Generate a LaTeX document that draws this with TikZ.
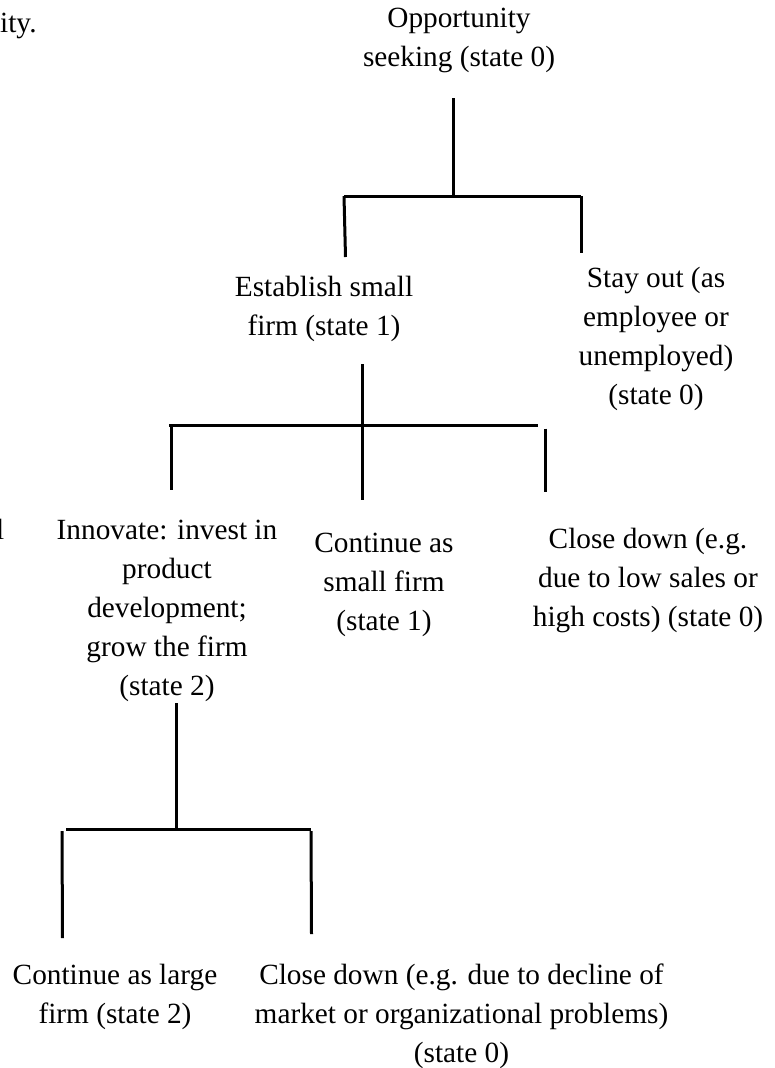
\documentclass[tikz,border=0pt]{standalone}
\usepackage{fontspec}
\setmainfont{Liberation Serif}
\begin{document}
\begin{tikzpicture}[x=1pt,y=-1pt,
  lbl/.style={inner sep=0pt, align=center, anchor=base, font=\fontsize{29.3}{39}\selectfont},
  br/.style={line width=3pt}]
\useasboundingbox (0,0) rectangle (775,1068);
% cut-off fragments
\node[lbl, anchor=base west] (frag1) at (0,32) {ity.};
\node[lbl, anchor=base east] (frag2) at (4.5,539) {l};
% labels (base anchor = baseline of the last line)
\node[lbl] (n0) at (459,66.8) {Opportunity\\seeking (state 0)};
\node[lbl] (n1) at (324,335) {Establish small\\firm (state 1)};
\node[lbl] (n2) at (656,404) {Stay out (as\\employee or\\unemployed)\\(state 0)};
\node[lbl] (n3) at (167,695) {Innovate: invest in\\product\\development;\\grow the firm\\(state 2)};
\node[lbl] (n4) at (384,630.6) {Continue as\\small firm\\(state 1)};
\node[lbl] (n5) at (648,626.6) {Close down (e.g.\\due to low sales or\\high costs) (state 0)};
\node[lbl] (n6) at (115,1023) {Continue as large\\firm (state 2)};
\node[lbl] (n7) at (461.5,1062) {Close down (e.g. due to decline of\\market or organizational problems)\\(state 0)};
% branch points
\coordinate (a0) at (453,98);
\coordinate (a1) at (453,196);
\coordinate (aL) at (344,196);
\coordinate (aR) at (581,196);
\coordinate (aLe) at (345.5,257);
\coordinate (aRe) at (581,253);
\coordinate (b0) at (362,364);
\coordinate (bL) at (169,425);
\coordinate (bR) at (538,425);
\coordinate (bLs) at (171,425);
\coordinate (bLe) at (171,490);
\coordinate (bCe) at (362,500);
\coordinate (bRs) at (545,428.5);
\coordinate (bRe) at (545,492);
\coordinate (c0) at (176,703);
\coordinate (c1) at (176,829);
\coordinate (cL) at (66,829);
\coordinate (cR) at (311,829);
\coordinate (cLs) at (62,831);
\coordinate (cLe) at (62.5,938);
\coordinate (cRs) at (311,831);
\coordinate (cRe) at (311.5,934);
% connectors
\draw[br] (a0) -- (a1);
\draw[br] (aL) -- (aR);
\draw[br] (aL) -- (aLe);
\draw[br] (aR) -- (aRe);
\draw[br] (b0) -- (bCe);
\draw[br] (bL) -- (bR);
\draw[br] (bLs) -- (bLe);
\draw[br] (bRs) -- (bRe);
\draw[br] (c0) -- (c1);
\draw[br] (cL) -- (cR);
\draw[br] (cLs) -- (cLe);
\draw[br] (cRs) -- (cRe);
\end{tikzpicture}
\end{document}
